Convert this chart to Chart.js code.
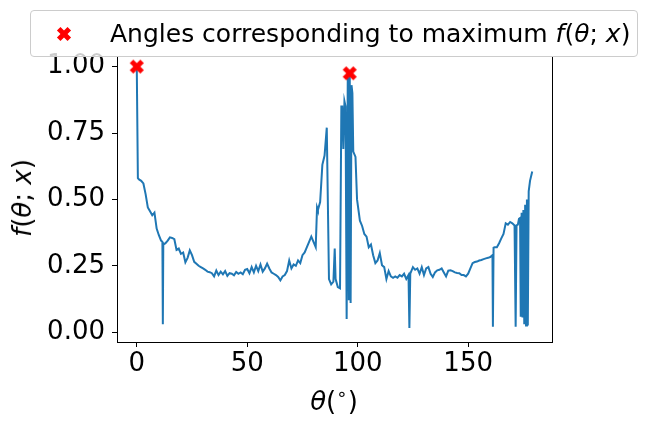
<!DOCTYPE html>
<html>
<head>
<meta charset="utf-8">
<script src="https://cdn.jsdelivr.net/npm/chart.js@4"></script>
<style>
  body { margin: 0; background: #fff; }
  #wrap { position: relative; width: 648px; height: 423px; font-family: "DejaVu Sans", sans-serif; color: #000; }
  #legend {
    position: absolute; left: 30px; top: 10px; width: 606px; height: 45px;
    border: 1px solid #cccccc; border-radius: 4px; background: rgba(255,255,255,0.8);
    display: flex; align-items: center; font-size: 25px; white-space: nowrap;
  }
  #legend canvas { position: absolute; left: 25px; top: 15px; }
  #legend .txt { position: absolute; left: 79px; }
  .lab { position: absolute; font-size: 26px; white-space: nowrap; }
  #ylab { left: 22px; top: 198px; transform: translate(-50%, -50%) rotate(-90deg); }
  #xlab { left: 334px; top: 399px; transform: translate(-50%, -50%); }
  i { font-style: italic; }
</style>
</head>
<body>
<div id="wrap">
  <canvas id="chart" width="648" height="423"></canvas>
  <div id="legend"><canvas id="legMark" width="16" height="16"></canvas><span class="txt">Angles corresponding to maximum <i>f</i>(<i>θ</i>; <i>x</i>)</span></div>
  <div class="lab" id="ylab"><i>f</i>(<i>θ</i>; <i>x</i>)</div>
  <div class="lab" id="xlab"><i>θ</i>(<span style="font-size:0.7em;vertical-align:0.55em">∘</span>)</div>
</div>
<script>
// --- data ---
const thetaDeg = [
  0, 0.5, 1, 2, 3, 4, 5, 6, 7, 8, 9, 10, 11, 11.6, 11.8, 12,
  13, 14, 15, 16, 17, 18, 19, 20, 21, 22, 23, 24, 25, 26, 27, 28, 29, 30,
  31, 32, 33, 34, 35, 36, 37, 38, 39, 40, 41, 42, 43, 44, 45, 46, 47, 48, 49, 50,
  51, 52, 53, 54, 55, 56, 57, 58, 59, 60, 61, 62, 63, 64, 65, 66, 67, 68, 69, 70,
  71, 72, 73, 74, 75, 76, 77, 78, 79, 80, 81, 81.6, 82, 83, 84, 85, 86,
  87, 88, 89, 89.6, 90, 91, 92, 92.6, 93, 93.5, 94, 94.5, 95, 95.5, 96, 96.4,
  96.8, 97.2, 97.6, 98, 99, 99.7, 101, 102, 103, 104, 105, 106, 107, 108, 109, 110,
  111, 112, 113, 114, 115, 116, 117, 118, 119, 120, 121, 122, 123, 123.4, 123.8,
  125, 126, 127, 128, 129, 130, 131, 132, 133, 134, 135, 136, 137, 138, 139, 140,
  141, 142, 143, 144, 145, 146, 147, 148, 149, 150, 151, 152, 153, 154, 155, 156,
  157, 158, 159, 160, 161, 161.2, 161.5, 162, 163, 164, 165, 166, 167, 168, 169, 170,
  171, 171.5, 171.9, 172.5, 173, 173.5, 173.8, 174.2, 174.6, 175, 175.4, 175.8,
  176.2, 176.6, 177, 177.4, 178, 179
];
const fValues = [
  1.0, 0.58, 0.575, 0.57, 0.56, 0.52, 0.47, 0.455, 0.44, 0.45, 0.39, 0.365, 0.345, 0.34, 0.03, 0.33,
  0.335, 0.345, 0.357, 0.355, 0.35, 0.31, 0.315, 0.295, 0.30, 0.263, 0.28, 0.308, 0.29, 0.265, 0.258, 0.25, 0.245, 0.24,
  0.235, 0.228, 0.226, 0.222, 0.21, 0.232, 0.215, 0.228, 0.218, 0.23, 0.212, 0.222, 0.22, 0.214, 0.227, 0.22, 0.225, 0.218, 0.235, 0.238,
  0.222, 0.245, 0.225, 0.25, 0.23, 0.255, 0.228, 0.24, 0.258, 0.24, 0.225, 0.22, 0.215, 0.208, 0.195, 0.21, 0.215, 0.23, 0.27, 0.24,
  0.255, 0.25, 0.27, 0.26, 0.29, 0.30, 0.32, 0.34, 0.36, 0.34, 0.32, 0.47, 0.46, 0.49, 0.63, 0.665, 0.77,
  0.20, 0.18, 0.19, 0.315, 0.2, 0.17, 0.165, 0.85, 0.85, 0.69, 0.87, 0.85, 0.05, 0.96, 0.12, 0.975,
  0.11, 0.93, 0.90, 0.68, 0.66, 0.50, 0.42, 0.40, 0.37, 0.36, 0.32, 0.33, 0.29, 0.26, 0.27, 0.298,
  0.252, 0.245, 0.20, 0.23, 0.21, 0.205, 0.21, 0.205, 0.215, 0.21, 0.22, 0.20, 0.215, 0.016, 0.22,
  0.245, 0.235, 0.24, 0.22, 0.245, 0.215, 0.24, 0.245, 0.22, 0.208, 0.225, 0.233, 0.235, 0.24, 0.225, 0.21,
  0.232, 0.233, 0.23, 0.225, 0.223, 0.222, 0.215, 0.215, 0.21, 0.22, 0.24, 0.26, 0.264, 0.266, 0.27, 0.272,
  0.275, 0.278, 0.28, 0.283, 0.29, 0.02, 0.318, 0.32, 0.32, 0.335, 0.353, 0.37, 0.41, 0.405, 0.415, 0.41,
  0.402, 0.02, 0.402, 0.405, 0.427, 0.43, 0.058, 0.45, 0.055, 0.46, 0.03, 0.48,
  0.025, 0.50, 0.025, 0.53, 0.57, 0.605
];
// angles where f is at its maximum (red markers)
const maxTheta = [0, 96.4];
const maxF = [1.0, 0.975];

const xTicks = [0, 50, 100, 150];
const yTicks = [0, 0.25, 0.5, 0.75, 1.0];

// filled "X" marker like matplotlib's 'X'
function makeXMarker(cv, size) {
  const c = cv.getContext('2d');
  const h = cv.width / 2;
  c.save();
  c.translate(h, h);
  c.rotate(Math.PI / 4);
  const pts = [[-1,-3],[1,-3],[1,-1],[3,-1],[3,1],[1,1],[1,3],[-1,3],[-1,1],[-3,1],[-3,-1],[-1,-1]];
  c.beginPath();
  pts.forEach((p, i) => {
    const x = p[0] / 6 * size, y = p[1] / 6 * size;
    if (i === 0) c.moveTo(x, y); else c.lineTo(x, y);
  });
  c.closePath();
  c.fillStyle = '#ff0000';
  c.fill();
  c.restore();
  return cv;
}

const markerCanvas = document.createElement('canvas');
markerCanvas.width = 16; markerCanvas.height = 16;
makeXMarker(markerCanvas, 15);
makeXMarker(document.getElementById('legMark'), 15);

// top and right spines
const boxPlugin = {
  id: 'box',
  afterDraw(chart) {
    const a = chart.chartArea, ctx = chart.ctx;
    ctx.save();
    ctx.strokeStyle = '#000';
    ctx.lineWidth = 1;
    ctx.beginPath();
    ctx.moveTo(a.left, a.top + 0.5);
    ctx.lineTo(a.right + 0.5, a.top + 0.5);
    ctx.lineTo(a.right + 0.5, a.bottom);
    ctx.stroke();
    ctx.restore();
  }
};

const tickFont = { family: 'DejaVu Sans', size: 26 };

new Chart(document.getElementById('chart'), {
  type: 'line',
  data: {
    datasets: [
      {
        label: 'Angles corresponding to maximum f(θ; x)',
        data: maxTheta.map((t, i) => ({ x: t, y: maxF[i] })),
        showLine: false,
        pointStyle: markerCanvas,
        pointRadius: 8,
        clip: false
      },
      {
        label: 'f',
        data: thetaDeg.map((t, i) => ({ x: t, y: fValues[i] })),
        borderColor: '#1f77b4',
        borderWidth: 2,
        pointRadius: 0,
        tension: 0,
        fill: false
      }
    ]
  },
  options: {
    responsive: false,
    animation: false,
    devicePixelRatio: 1,
    layout: { padding: { left: 0, right: 96, top: 56, bottom: 0 } },
    plugins: { legend: { display: false }, tooltip: { enabled: false } },
    scales: {
      x: {
        type: 'linear',
        min: -8.95,
        max: 187.95,
        afterBuildTicks: s => { s.ticks = xTicks.map(v => ({ value: v })); },
        afterFit: s => { s.height = 81; },
        grid: { drawOnChartArea: false, drawTicks: true, tickLength: 5, color: '#000' },
        border: { display: true, color: '#000', width: 1 },
        ticks: { font: tickFont, color: '#000', padding: 2, maxRotation: 0 }
      },
      y: {
        min: -0.037,
        max: 1.04,
        afterBuildTicks: s => { s.ticks = yTicks.map(v => ({ value: v })); },
        afterFit: s => { s.width = 117; },
        grid: { drawOnChartArea: false, drawTicks: true, tickLength: 5, color: '#000' },
        border: { display: true, color: '#000', width: 1 },
        ticks: { font: tickFont, color: '#000', padding: 7, callback: v => v.toFixed(2) }
      }
    }
  },
  plugins: [boxPlugin]
});
</script>
</body>
</html>
